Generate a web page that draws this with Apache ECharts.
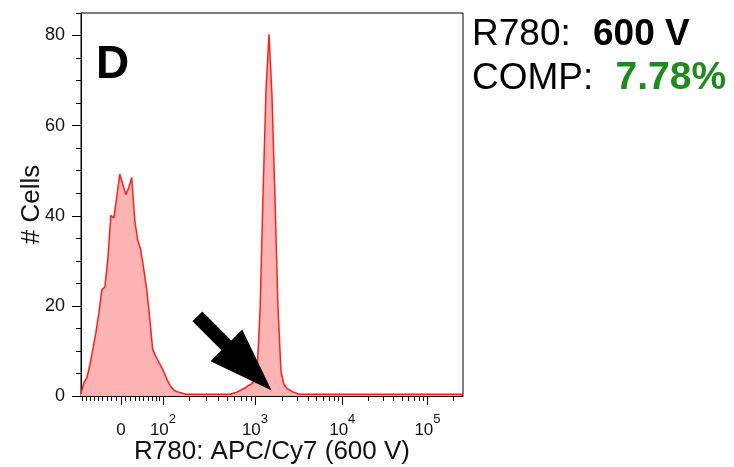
<!DOCTYPE html>
<html>
<head>
<meta charset="utf-8">
<script src="https://cdn.jsdelivr.net/npm/echarts@6/dist/echarts.min.js"></script>
<style>
  html, body { margin: 0; padding: 0; background: #ffffff; }
  #chart { width: 734px; height: 467px; }
</style>
</head>
<body>
<div id="chart"></div>
<script>
// Event counts per display channel: 128 equal channels spanning the logicle display (0..1)
const channelCounts = [
  0.5, 3.0, 4.1, 7.0, 10.5, 14.1, 18.5, 23.6, 24.2, 30.5,
  40.1, 39.5, 44.3, 49.3, 47.0, 44.7, 46.2, 48.5, 39.1, 34.6,
  32.5, 28.3, 23.7, 17.5, 10.4, 8.9, 7.6, 6.4, 5.0, 3.4,
  2.2, 1.4, 1.0, 0.8, 0.6, 0.4, 0.4, 0.4, 0.4, 0.4,
  0.4, 0.4, 0.4, 0.4, 0.4, 0.4, 0.4, 0.4, 0.4, 0.4,
  0.4, 0.6, 0.8, 1.1, 1.5, 1.8, 2.3, 2.6, 3.3, 5.5,
  19.0, 45.0, 68.0, 80.3, 66.5, 43.9, 19.8, 5.5, 2.6, 1.7,
  1.3, 0.9, 0.7, 0.4, 0.4, 0.4, 0.4, 0.4, 0.4, 0.4,
  0.4, 0.4, 0.4, 0.4, 0.4, 0.4, 0.4, 0.4, 0.4, 0.4,
  0.4, 0.4, 0.4, 0.4, 0.4, 0.4, 0.4, 0.4, 0.4, 0.4,
  0.4, 0.4, 0.4, 0.4, 0.4, 0.4, 0.4, 0.4, 0.4, 0.4,
  0.4, 0.4, 0.4, 0.4, 0.4, 0.4, 0.4, 0.4, 0.4, 0.4,
  0.4, 0.4, 0.4, 0.4, 0.4, 0.4, 0.4, 0.4, 0.4
];
const channelTotal = 128;

// Fluorescence tick values (data units) and their labels
const xMajorValues = [0, 100, 1000, 10000, 100000];
const xMajorLabels = ['0', '10^2', '10^3', '10^4', '10^5'];
const xMinorValues = [
  -90, -80, -70, -60, -50, -40, -30, -20, -10,
  10, 20, 30, 40, 50, 60, 70, 80, 90,
  200, 300, 400, 500, 600, 700, 800, 900,
  2000, 3000, 4000, 5000, 6000, 7000, 8000, 9000,
  20000, 30000, 40000, 50000, 60000, 70000, 80000, 90000,
  200000
];
const yMajorValues = [0, 20, 40, 60, 80];
const yMinorValues = [5, 10, 15, 25, 30, 35, 45, 50, 55, 65, 70, 75, 85];
const yMax = 85;

// Panel annotations
const panelLetter = 'D';
const voltageLine = ['R780: ', '600 V'];
const compLine = ['COMP: ', '7.78%'];
const xAxisTitle = 'R780: APC/Cy7 (600 V)';
const yAxisTitle = '# Cells';
const arrowTip = [0.499, 1.2];   // display channel, count

// Logicle scale (Parks/Moore) parameters
const LOGICLE = { T: 262144, W: 0.47, M: 4.5, A: 0 };

function buildLogicle(p) {
  const w = p.W / (p.M + p.A);
  const x2 = p.A / (p.M + p.A);
  const x1 = x2 + w;
  const x0 = x2 + 2 * w;
  const b = (p.M + p.A) * Math.LN10;
  // solve 2(ln d - ln b) + w(b + d) = 0 for d
  let lo = 1e-9, hi = b;
  for (let k = 0; k < 200; k++) {
    const mid = (lo + hi) / 2;
    const g = 2 * (Math.log(mid) - Math.log(b)) + w * (b + mid);
    if (g > 0) hi = mid; else lo = mid;
  }
  const d = (lo + hi) / 2;
  const ca = Math.exp(x0 * (b + d));
  const mfa = Math.exp(b * x1) - ca / Math.exp(d * x1);
  const a = p.T / ((Math.exp(b) - mfa) - ca / Math.exp(d));
  const c = ca * a;
  const f = -mfa * a;
  const S = (x) => {
    if (x >= x1) return a * Math.exp(b * x) - c * Math.exp(-d * x) + f;
    const r = 2 * x1 - x;
    return -(a * Math.exp(b * r) - c * Math.exp(-d * r) + f);
  };
  const toDisplay = (v) => {
    let l = -1, h = 2;
    for (let k = 0; k < 200; k++) {
      const m = (l + h) / 2;
      if (S(m) < v) l = m; else h = m;
    }
    return (l + h) / 2;
  };
  return { S, toDisplay };
}

const logicle = buildLogicle(LOGICLE);
const xMajorDisplay = xMajorValues.map(logicle.toDisplay);
const xMinorDisplay = xMinorValues.map(logicle.toDisplay);

const histData = channelCounts.map((c, i) => [i / channelTotal, c]);

const FONT = 'Liberation Sans, Arial, Helvetica, sans-serif';

function richLabel(str) {
  const parts = str.split('^');
  if (parts.length === 1) return '{base|' + parts[0] + '}';
  return '{base|' + parts[0] + '}{sup|' + parts[1] + '}';
}

const chart = echarts.init(document.getElementById('chart'), null, { renderer: 'canvas' });

const option = {
  animation: false,
  backgroundColor: '#ffffff',
  grid: {
    left: 81, top: 13, right: 271, bottom: 71,
    containLabel: false, outerBoundsMode: 'none',
    show: true, borderColor: '#000000', borderWidth: 1,
    backgroundColor: 'transparent'
  },
  xAxis: [
    {
      type: 'value', min: 0, max: 1, position: 'bottom',
      axisLine: { show: true, onZero: false, lineStyle: { color: '#000000', width: 1 } },
      axisTick: { show: true, customValues: xMajorDisplay, length: 9, inside: false,
                  lineStyle: { color: '#000000', width: 1 } },
      axisLabel: {
        show: true, customValues: xMajorDisplay, margin: 17,
        formatter: (val) => {
          let best = 0;
          xMajorDisplay.forEach((d, i) => {
            if (Math.abs(d - val) < Math.abs(xMajorDisplay[best] - val)) best = i;
          });
          return richLabel(xMajorLabels[best]);
        },
        rich: {
          base: { fontSize: 17, fontFamily: FONT, color: '#111111', verticalAlign: 'bottom', lineHeight: 26 },
          sup: { fontSize: 13, fontFamily: FONT, color: '#111111', verticalAlign: 'top', lineHeight: 14 }
        }
      },
      splitLine: { show: false },
      name: xAxisTitle, nameLocation: 'middle', nameGap: 43, nameMoveOverlap: false,
      nameTextStyle: { fontSize: 26, fontFamily: FONT, color: '#111111' }
    },
    {
      type: 'value', min: 0, max: 1, position: 'bottom',
      axisLine: { show: false, onZero: false },
      axisTick: { show: true, customValues: xMinorDisplay, length: 5,
                  lineStyle: { color: '#000000', width: 1 } },
      axisLabel: { show: false },
      splitLine: { show: false }
    }
  ],
  yAxis: [
    {
      type: 'value', min: 0, max: yMax, position: 'left',
      axisLine: { show: true, onZero: false, lineStyle: { color: '#000000', width: 1 } },
      axisTick: { show: true, customValues: yMajorValues, length: 9,
                  lineStyle: { color: '#000000', width: 1 } },
      axisLabel: { show: true, customValues: yMajorValues, margin: 16,
                   fontSize: 18, fontFamily: FONT, color: '#111111' },
      splitLine: { show: false },
      name: yAxisTitle, nameLocation: 'middle', nameGap: 36, nameRotate: 90, nameMoveOverlap: false,
      nameTextStyle: { fontSize: 26, fontFamily: FONT, color: '#111111' }
    },
    {
      type: 'value', min: 0, max: yMax, position: 'left',
      axisLine: { show: false, onZero: false },
      axisTick: { show: true, customValues: yMinorValues, length: 5,
                  lineStyle: { color: '#000000', width: 1 } },
      axisLabel: { show: false },
      splitLine: { show: false }
    }
  ],
  series: [
    {
      name: 'R780',
      type: 'line',
      xAxisIndex: 0, yAxisIndex: 0,
      data: histData,
      showSymbol: false, symbol: 'none',
      smooth: false,
      lineStyle: { color: '#ff1f1f', width: 1.5 },
      areaStyle: { color: '#ffb4b4', opacity: 1 },
      clip: true,
      z: 2
    }
  ]
};

chart.setOption(option);

// Annotations: panel letter, detector/compensation text and the black arrow
function arrowPolygon() {
  const tip = chart.convertToPixel({ xAxisIndex: 0, yAxisIndex: 0 }, arrowTip);
  const ang = Math.PI / 4;
  const ux = Math.cos(ang), uy = Math.sin(ang);
  const nx = -uy, ny = ux;
  const headLen = 64, headHalf = 22.4, shaftHalf = 7, totalLen = 105;
  const bx = tip[0] - headLen * ux, by = tip[1] - headLen * uy;
  const tx = tip[0] - totalLen * ux, ty = tip[1] - totalLen * uy;
  return [
    [tip[0], tip[1]],
    [bx + headHalf * nx, by + headHalf * ny],
    [bx + shaftHalf * nx, by + shaftHalf * ny],
    [tx + shaftHalf * nx, ty + shaftHalf * ny],
    [tx - shaftHalf * nx, ty - shaftHalf * ny],
    [bx - shaftHalf * nx, by - shaftHalf * ny],
    [bx - headHalf * nx, by - headHalf * ny]
  ];
}

chart.setOption({
  graphic: [
    {
      type: 'polygon', z: 10,
      shape: { points: arrowPolygon() },
      style: { fill: '#000000', stroke: 'none' }
    },
    {
      type: 'text', left: 96, top: 42, z: 10,
      style: { text: panelLetter, font: 'bold 46px ' + FONT, fill: '#000000' }
    },
    {
      type: 'text', left: 472, top: 16, z: 10,
      style: {
        text: '{n|' + voltageLine[0] + '}{b|' + voltageLine[1] + '}',
        rich: {
          n: { fontSize: 37, fontFamily: FONT, fill: '#000000' },
          b: { fontSize: 37, fontFamily: FONT, fontWeight: 'bold', fill: '#000000', padding: [0, 0, 0, 12] }
        }
      }
    },
    {
      type: 'text', left: 472, top: 59, z: 10,
      style: {
        text: '{n|' + compLine[0] + '}{g|' + compLine[1] + '}',
        rich: {
          n: { fontSize: 37, fontFamily: FONT, fill: '#000000' },
          g: { fontSize: 39, fontFamily: FONT, fontWeight: 'bold', fill: '#1f8a1f', padding: [0, 0, 0, 12] }
        }
      }
    }
  ]
});
</script>
</body>
</html>
